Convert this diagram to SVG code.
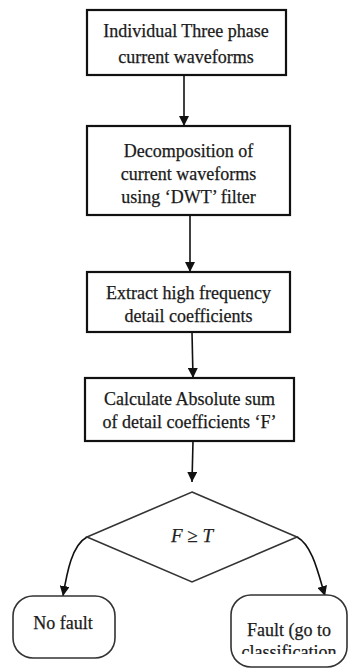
<svg xmlns="http://www.w3.org/2000/svg" width="349" height="668" viewBox="0 0 349 668">
<style>
.box{fill:#fff;stroke:#111;stroke-width:2.2}
.rnd{fill:#fff;stroke:#333;stroke-width:1.6}
.dia{fill:none;stroke:#333;stroke-width:1.6}
.t{font-family:"Liberation Serif","Times New Roman",serif;font-size:18px;fill:#1a1a1a;stroke:#1a1a1a;stroke-width:0.25;text-anchor:middle}
.m{font-family:"Liberation Serif","Times New Roman",serif;font-style:italic;font-size:19px;fill:#222;stroke:#222;stroke-width:0.25;text-anchor:middle}
.c{fill:none;stroke:#111;stroke-width:1.6}
</style>
<defs>
<marker id="ah2" viewBox="0 0 10 10" refX="10" refY="5" markerWidth="10" markerHeight="10" orient="auto" markerUnits="userSpaceOnUse">
<path d="M0,0 L10,5 L0,10 z" fill="#111"/>
</marker>
<clipPath id="clipF"><rect x="230" y="594" width="118" height="60"/></clipPath>
</defs>
<rect width="349" height="668" fill="#fff"/>
<g id="connectors">
<path class="c" d="M184,75 L184,126" marker-end="url(#ah2)"/>
<path class="c" d="M190,215 L190,272" marker-end="url(#ah2)"/>
<path class="c" d="M192,332 L193,378" marker-end="url(#ah2)"/>
<path class="c" d="M193,441 L192,482" marker-end="url(#ah2)"/>
<path class="c" d="M87,537 C72,545 67,572 63,596" marker-end="url(#ah2)"/>
<path class="c" d="M297,537 C312,545 318,572 325,596" marker-end="url(#ah2)"/>
</g>
<g id="n1">
<rect class="box" x="87" y="10" width="199" height="65"/>
<text class="t" x="186" y="37">Individual Three phase</text>
<text class="t" x="186" y="63">current waveforms</text>
</g>
<g id="n2">
<rect class="box" x="87" y="126" width="203" height="89"/>
<text class="t" x="188.5" y="157">Decomposition of</text>
<text class="t" x="188.5" y="180">current waveforms</text>
<text class="t" x="188.5" y="203">using ‘DWT’ filter</text>
</g>
<g id="n3">
<rect class="box" x="87" y="272" width="203" height="60"/>
<text class="t" x="188.5" y="299">Extract high frequency</text>
<text class="t" x="188.5" y="322">detail coefficients</text>
</g>
<g id="n4">
<rect class="box" x="85" y="378" width="209" height="63"/>
<text class="t" x="189.5" y="405">Calculate Absolute sum</text>
<text class="t" x="189.5" y="428">of detail coefficients ‘F’</text>
</g>
<g id="n5">
<path class="dia" d="M192,492 L297,537 L192,582 L87,537 Z"/>
<text class="m" x="192" y="542">F ≥ T</text>
</g>
<g id="n6">
<rect class="rnd" x="13" y="596" width="102" height="62" rx="20" ry="20"/>
<text class="t" x="63" y="629">No fault</text>
</g>
<g id="n7">
<rect class="rnd" x="231" y="595" width="116" height="72" rx="20" ry="20"/>
<text class="t" x="289" y="636">Fault (go to</text>
<text class="t" x="289" y="658" clip-path="url(#clipF)">classification</text>
</g>
</svg>
